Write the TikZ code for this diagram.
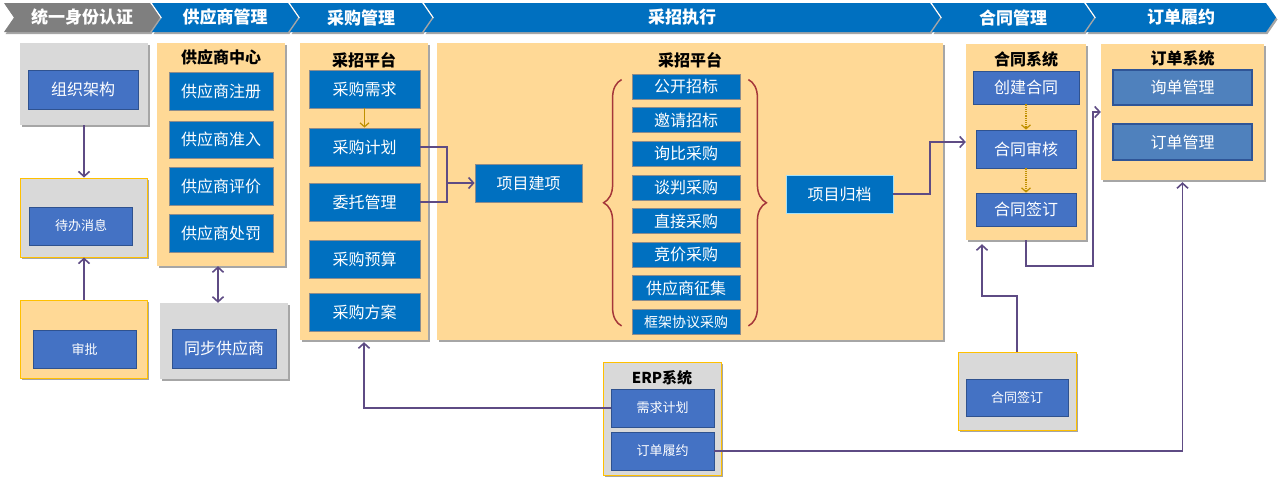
\documentclass[tikz,border=0pt]{standalone}
\usepackage{fontspec}
\setmainfont{Noto Sans CJK SC}
\usetikzlibrary{arrows.meta,shadows,decorations.pathreplacing}

\definecolor{hdrblue}{HTML}{0070C0}
\definecolor{hdrgray}{HTML}{7F7F7F}
\definecolor{panel}{HTML}{FFD996}
\definecolor{panelgray}{HTML}{D9D9D9}
\definecolor{panelline}{HTML}{FFC000}
\definecolor{unitblue}{HTML}{0070C0}
\definecolor{unitmidc}{HTML}{4472C4}
\definecolor{unitmidline}{HTML}{2F528F}
\definecolor{unitsoftc}{HTML}{4F81BD}
\definecolor{unitsoftline}{HTML}{2F5597}
\definecolor{linkc}{HTML}{5E4B84}
\definecolor{stepc}{HTML}{BF9000}
\definecolor{bracec}{HTML}{A5373A}

\tikzset{
  shade/.style={drop shadow={shadow xshift=1.5pt,shadow yshift=-2pt,opacity=.35,fill=black}},
  panelbox/.style={fill=panel,shade,inner sep=0pt},
  graybox/.style={fill=panelgray,shade,inner sep=0pt},
  framed/.style={draw=panelline,line width=1pt},
  hdrtext/.style={text=white,font=\bfseries\fontsize{17pt}{20pt}\selectfont},
  title/.style={font=\bfseries\fontsize{16pt}{18pt}\selectfont},
  unit/.style={fill=unitblue,draw=black!45,line width=.8pt,text=white,inner sep=0pt,
    font=\fontsize{16pt}{18pt}\selectfont},
  unitmid/.style={unit,fill=unitmidc,draw=unitmidline},
  unitsoft/.style={unit,fill=unitsoftc,draw=unitsoftline,line width=1.6pt},
  small/.style={font=\fontsize{13pt}{15pt}\selectfont},
  link/.style={draw=linkc,line width=1.6pt,arrows={-Straight Barb[length=5pt,width=11pt]}},
  linkline/.style={draw=linkc,line width=1.6pt},
  stepflow/.style={draw=stepc,line width=1.2pt,arrows={-Straight Barb[length=4pt,width=9pt]}},
  brace/.style={decorate,decoration={brace,amplitude=18pt},draw=bracec,line width=1.5pt}
}

% chevron of the top band: name, left, right, colour, text
\newcommand{\chevron}[5]{%
  \fill[#4,shade] (#2,3) -- (#3,3) -- (#3+10,17.5) -- (#3,32) -- (#2,32) -- (#2+10,17.5) -- cycle;
  \node[hdrtext] (#1) at ({(#2+#3)/2+5},17.5) {#5};}

\begin{document}
\begin{tikzpicture}[x=1pt,y=-1pt]
\useasboundingbox (0,0) rectangle (1280,477);

% top band
\chevron{hd1}{4}{150}{hdrgray}{统一身份认证}
\chevron{hd2}{152}{288}{hdrblue}{供应商管理}
\chevron{hd3}{290}{422}{hdrblue}{采购管理}
\chevron{hd4}{424}{930}{hdrblue}{采招执行}
\chevron{hd5}{932}{1084}{hdrblue}{合同管理}
\chevron{hd6}{1086}{1266}{hdrblue}{订单履约}

% identity
\node[graybox,minimum width=128pt,minimum height=82pt] (org) at (84,84) {};
\node[unitmid,minimum width=110pt,minimum height=39pt] (orgu) at (83,89.5) {组织架构};
\node[graybox,framed,minimum width=127pt,minimum height=79pt] (todo) at (84,217.5) {};
\node[unitmid,small,minimum width=103pt,minimum height=38pt] (todou) at (81,226) {待办消息};
\node[panelbox,framed,minimum width=127pt,minimum height=78pt] (appr) at (84,339) {};
\node[unitmid,small,minimum width=103pt,minimum height=38pt] (appru) at (84.5,349) {审批};
\draw[link] (org.south) -- (todo.north);
\draw[link] (appr.north) -- (todo.south);

% suppliers
\node[panelbox,minimum width=128pt,minimum height=223pt] (supc) at (221,154.5) {};
\node[title] at (221,57) {供应商中心};
\node[unit,minimum width=104pt,minimum height=38pt] (sup1) at (221,91.5) {供应商注册};
\node[unit,minimum width=104pt,minimum height=37pt] (sup2) at (221,139.5) {供应商准入};
\node[unit,minimum width=104pt,minimum height=38pt] (sup3) at (221,186) {供应商评价};
\node[unit,minimum width=104pt,minimum height=38pt] (sup4) at (221,233) {供应商处罚};
\node[graybox,minimum width=128pt,minimum height=76pt] (sync) at (224,341) {};
\node[unitmid,minimum width=104pt,minimum height=39pt] (syncu) at (224,348.5) {同步供应商};
\draw[link,arrows={Straight Barb[length=5pt,width=11pt]-Straight Barb[length=5pt,width=11pt]}]
  ([xshift=-3pt]supc.south) -- ([xshift=-6pt]sync.north);

% purchasing
\node[panelbox,minimum width=128pt,minimum height=297pt] (pp) at (364,191.5) {};
\node[title] at (364,60) {采招平台};
\node[unit,minimum width=111pt,minimum height=38pt] (need) at (364.5,89) {采购需求};
\node[unit,minimum width=111pt,minimum height=38pt] (plan) at (364.5,147) {采购计划};
\node[unit,minimum width=111pt,minimum height=38pt] (entr) at (364.5,202) {委托管理};
\node[unit,minimum width=111pt,minimum height=38pt] (budg) at (364.5,259) {采购预算};
\node[unit,minimum width=111pt,minimum height=38pt] (sche) at (364.5,312) {采购方案};
\draw[stepflow] (need.south) -- (plan.north);

% execution
\node[panelbox,minimum width=506pt,minimum height=297pt] (exec) at (690,191.5) {};
\node[title] at (690,60) {采招平台};
\foreach \t [count=\i] in {公开招标,邀请招标,询比采购,谈判采购,直接采购,竞价采购,供应商征集}
  \node[unit,minimum width=108pt,minimum height=25pt] (m\i) at (686,{86.5+(\i-1)*33.64}) {\t};
\node[unit,minimum width=108pt,minimum height=25pt,font=\fontsize{14pt}{16pt}\selectfont] (m8) at (686,322) {框架协议采购};
\draw[brace] ([shift={(-10pt,9pt)}]m8.south west) -- ([shift={(-10pt,-6pt)}]m1.north west);
\draw[brace] ([shift={(8pt,-6pt)}]m1.north east) -- ([shift={(8pt,9pt)}]m8.south east);
\node[unit,minimum width=107pt,minimum height=38pt] (setup) at (528.5,183) {项目建项};
\node[unit,draw=cyan!35!white,minimum width=107pt,minimum height=38pt] (arch) at (839.5,194) {项目归档};
\coordinate (j1) at (447,183);
\draw[linkline] (plan.east) -| (j1) |- (entr.east);
\draw[link] (j1) -- (setup.west);

% contracts
\node[panelbox,minimum width=120pt,minimum height=196pt] (csys) at (1026,142) {};
\node[title] at (1026,59) {合同系统};
\node[unitmid,minimum width=106pt,minimum height=33pt] (c1) at (1026,87.5) {创建合同};
\node[unitmid,minimum width=100pt,minimum height=38pt] (c2) at (1026,149) {合同审核};
\node[unitmid,minimum width=100pt,minimum height=33pt] (c3) at (1026,209.5) {合同签订};
\draw[stepflow,densely dotted] (c1.south) -- (c2.north);
\draw[stepflow,densely dotted] (c2.south) -- (c3.north);
\coordinate (j2) at (930,142);
\draw[link] (arch.east) -| (j2) -- (csys.west);
\node[graybox,framed,minimum width=118pt,minimum height=78pt] (sign) at (1017,391) {};
\node[unitmid,small,minimum width=102pt,minimum height=37pt] (signu) at (1017,397.5) {合同签订};
\coordinate (j3) at (982,296);
\draw[link,shorten >=4pt] (sign.north) |- (j3) -- (j3 |- csys.south);

% orders
\node[panelbox,minimum width=163pt,minimum height=136pt] (osys) at (1182.5,112) {};
\node[title] at (1182.5,58) {订单系统};
\node[unitsoft,minimum width=139pt,minimum height=35pt] (o1) at (1182.5,87.5) {询单管理};
\node[unitsoft,minimum width=139pt,minimum height=36pt] (o2) at (1182.5,142) {订单管理};
\coordinate (j4) at (1093,266);
\coordinate (j5) at (1093,112);
\draw[link] (csys.south) |- (j4) -- (j5) -- (j5 -| osys.west);

% erp
\node[graybox,framed,minimum width=118pt,minimum height=113pt] (erp) at (662,418.5) {};
\node[title,font=\bfseries\fontsize{15pt}{17pt}\selectfont] at (662,378) {ERP系统};
\node[unitmid,small,minimum width=103pt,minimum height=38pt] (e1) at (662.5,408) {需求计划};
\node[unitmid,small,minimum width=103pt,minimum height=38pt] (e2) at (662.5,451) {订单履约};
\draw[link,shorten >=2pt] (e1.west) -| (pp.south);
\draw[link,shorten >=2pt] (e2.east) -| (osys.south);
\end{tikzpicture}
\end{document}
